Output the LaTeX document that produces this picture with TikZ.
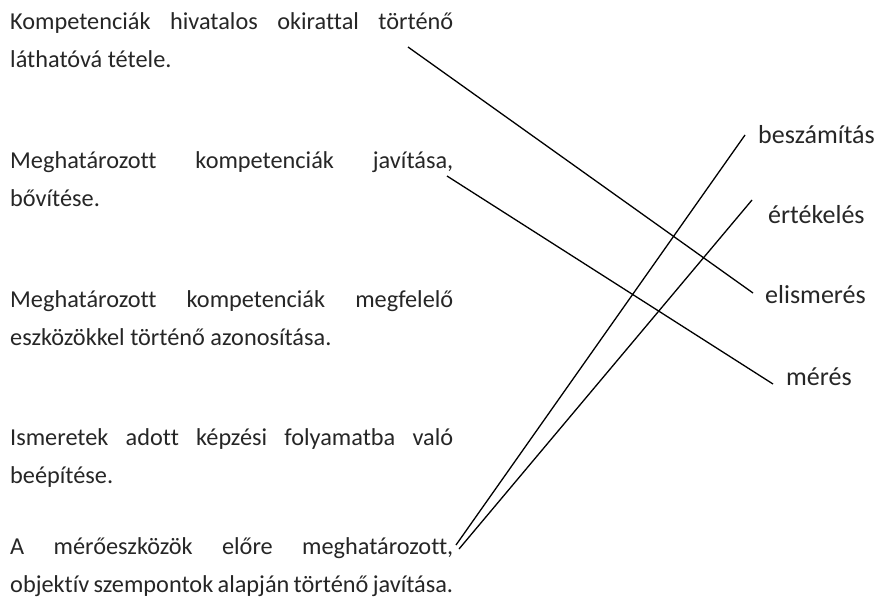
\documentclass[tikz,border=0pt]{standalone}
\usepackage{fontspec}
\setmainfont{Carlito}[Ligatures=NoCommon]
\usetikzlibrary{calc}

\begin{document}
\begin{tikzpicture}[x=1pt,y=-1pt] % pixel-like units, y pointing down
      \useasboundingbox (0,0) rectangle (880,606);
      \tikzset{
        leftpar/.style={anchor=base west, inner sep=0pt, text width=443pt, align=justify,
          text=black!85, font=\fontsize{24.3}{38}\selectfont},
        rightlabel/.style={anchor=base west, inner sep=0pt, text=black!85,
          font=\fontsize{26}{30}\selectfont},
        pairline/.style={line width=1.3pt}
      }

      % Left column: the descriptions
      \node[leftpar] (hivatalos) at (10,29) {Kompetenciák hivatalos okirattal történő\linebreak láthatóvá tétele.};
      \node[leftpar] (fejlesztes) at (10,168) {Meghatározott kompetenciák javítása,\linebreak bővítése.};
      \node[leftpar] (azonositas) at (10,307) {Meghatározott kompetenciák megfelelő\linebreak eszközökkel történő azonosítása.};
      \node[leftpar] (beepites) at (10,445) {Ismeretek adott képzési folyamatba való\linebreak beépítése.};
      \node[leftpar] (meroeszkoz) at (10,554) {A mérőeszközök előre meghatározott,\linebreak objektív szempontok alapján történő javítása.};

      % Right column: the terms
      \node[rightlabel] (beszamitas) at (758,143) {beszámítás};
      \node[rightlabel] (ertekeles) at (768,223) {értékelés};
      \node[rightlabel] (elismeres) at (765,303) {elismerés};
      \node[rightlabel] (meres) at (786,385) {mérés};

      % Line ends
      \coordinate (hivatalos-end) at (408,47);
      \coordinate (fejlesztes-end) at (447,176);
      \coordinate (meroeszkoz-end1) at (456,545);
      \coordinate (meroeszkoz-end2) at (459,549);
      \coordinate (beszamitas-end) at (745,135);
      \coordinate (ertekeles-end) at (752,200);
      \coordinate (elismeres-end) at (753,293);
      \coordinate (meres-end) at (773,384);

      % Draw the matching lines
      \draw[pairline] (hivatalos-end) -- (elismeres-end);
      \draw[pairline] (fejlesztes-end) -- (meres-end);
      \draw[pairline] (meroeszkoz-end1) -- (beszamitas-end);
      \draw[pairline] (meroeszkoz-end2) -- (ertekeles-end);

    \end{tikzpicture}
\end{document}
